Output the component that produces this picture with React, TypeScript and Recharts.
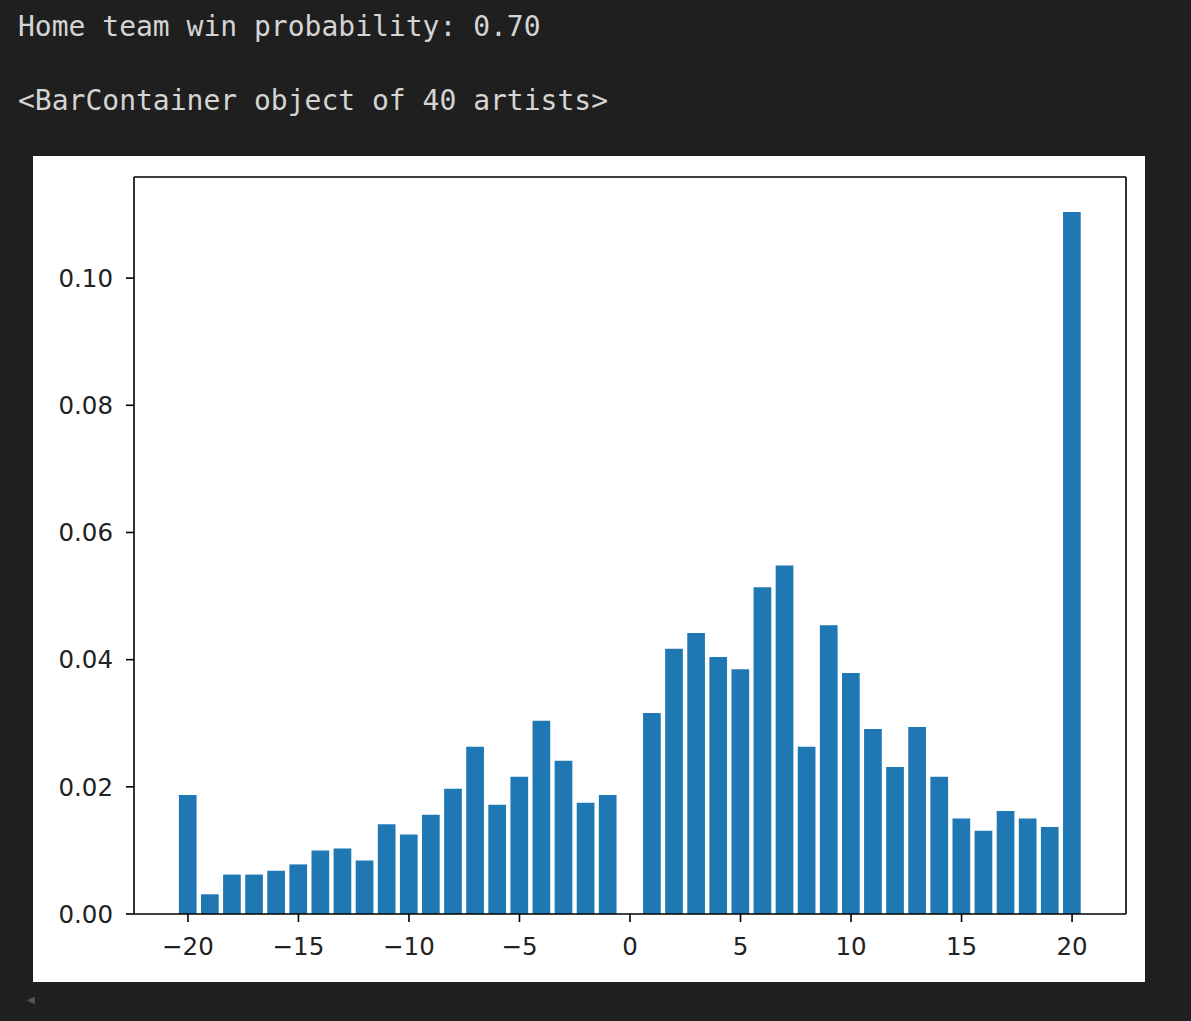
import React from 'react';
import { BarChart, Bar, XAxis, YAxis, ReferenceLine } from 'recharts';

const margins = [
  -20, -19, -18, -17, -16, -15, -14, -13, -12, -11, -10, -9, -8, -7, -6, -5, -4, -3, -2, -1,
  1, 2, 3, 4, 5, 6, 7, 8, 9, 10, 11, 12, 13, 14, 15, 16, 17, 18, 19, 20,
];
const probabilities = [
  0.0187, 0.0031, 0.0062, 0.0062, 0.0068, 0.0078, 0.0100, 0.0103, 0.0084, 0.0141,
  0.0125, 0.0156, 0.0197, 0.0263, 0.0172, 0.0216, 0.0304, 0.0241, 0.0175, 0.0187,
  0.0316, 0.0417, 0.0442, 0.0404, 0.0385, 0.0514, 0.0548, 0.0263, 0.0454, 0.0379,
  0.0291, 0.0231, 0.0294, 0.0216, 0.0150, 0.0131, 0.0162, 0.0150, 0.0137, 0.1104,
];
const xTicks = [-20, -15, -10, -5, 0, 5, 10, 15, 20];
const yTicks = [0, 0.02, 0.04, 0.06, 0.08, 0.1];
const outputLines = ['Home team win probability: 0.70', '<BarContainer object of 40 artists>'];

const data = margins.map((m, i) => ({ x: m, p: probabilities[i] }));

const xDomain: [number, number] = [-22.44, 22.44];
const yDomain: [number, number] = [0, 0.1159];

const tickFont = { fontFamily: 'DejaVu Sans', fontSize: 24.5, fill: '#222' };
const fmtX = (v: number) => String(v).replace('-', '\u2212');
const fmtY = (v: number) => v.toFixed(2);

export default function App() {
  return (
    <div
      style={{
        position: 'absolute',
        left: 0,
        top: 0,
        width: 1191,
        height: 1021,
        background: '#1f1f1f',
        overflow: 'hidden',
      }}
    >
      {outputLines.map((t, i) => (
        <div
          key={i}
          style={{
            position: 'absolute',
            left: 18,
            top: i === 0 ? 13 : 87,
            fontFamily: '"DejaVu Sans Mono", monospace',
            fontSize: 28,
            lineHeight: '28px',
            color: '#d4d4d4',
            whiteSpace: 'pre',
          }}
        >
          {t}
        </div>
      ))}
      <div
        style={{
          position: 'absolute',
          left: 33,
          top: 156,
          width: 1112,
          height: 826,
          background: '#ffffff',
        }}
      >
        <BarChart
          width={1112}
          height={826}
          data={data}
          margin={{ top: 21, right: 19, bottom: 0, left: 0 }}
        >
          <XAxis
            dataKey="x"
            type="number"
            domain={xDomain}
            ticks={xTicks}
            tickFormatter={fmtX}
            height={68}
            tickSize={8}
            tickMargin={16}
            tick={tickFont}
            axisLine={{ stroke: '#000', strokeWidth: 1.6 }}
            tickLine={{ stroke: '#000', strokeWidth: 1.6 }}
            allowDataOverflow
          />
          <YAxis
            type="number"
            domain={yDomain}
            ticks={yTicks}
            tickFormatter={fmtY}
            width={101}
            tickSize={8}
            tickMargin={13}
            tick={tickFont}
            axisLine={{ stroke: '#000', strokeWidth: 1.6 }}
            tickLine={{ stroke: '#000', strokeWidth: 1.6 }}
            allowDataOverflow
          />
          <Bar dataKey="p" fill="#1f77b4" barSize={17.7} isAnimationActive={false} />
          <ReferenceLine y={yDomain[1]} stroke="#000" strokeWidth={1.6} ifOverflow="visible" />
          <ReferenceLine x={xDomain[1]} stroke="#000" strokeWidth={1.6} ifOverflow="visible" />
        </BarChart>
      </div>
      <div
        style={{
          position: 'absolute',
          left: 27,
          top: 994,
          fontSize: 10,
          color: '#555',
          fontFamily: 'DejaVu Sans',
        }}
      >
        ◀
      </div>
    </div>
  );
}
